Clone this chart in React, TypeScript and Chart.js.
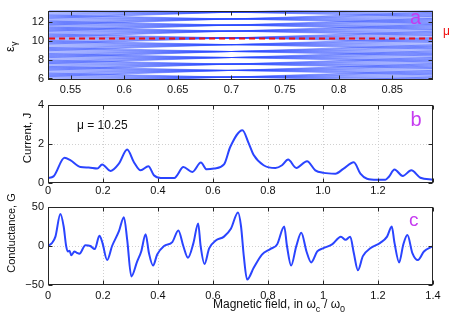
import React, { useEffect, useRef } from "react";
import { Chart, registerables } from "chart.js";

Chart.register(...registerables);

const FONT = "'Liberation Sans', Arial, Helvetica, sans-serif";

// ---------- Panel a: energy levels vs magnetic field ----------
const levelField = [0.53, 0.7, 0.888];
const bandCentres = [5.45, 6.15, 6.86, 7.53, 8.23, 8.87, 9.6, 10.31, 11.04, 11.68, 12.33, 13.05, 13.75];
const fanStart = [0.425, 0.306, 0.187, 0.068, -0.051, -0.17, -0.289, -0.408, -0.527, -0.646];
const fanEnd = [-0.47, -0.338, -0.207, -0.075, 0.056, 0.188, 0.32, 0.451, 0.583, 0.714];
const mu = 10.25;
const aTicksX = [0.55, 0.6, 0.65, 0.7, 0.75, 0.8, 0.85];
const aTickLabelsX = ["0.55", "0.6", "0.65", "0.7", "0.75", "0.8", "0.85"];
const aTicksY = [6, 8, 10, 12];
const aTickLabelsY = ["6", "8", "10", "12"];

// ---------- Panel b: current ----------
const currentField = [0, 0.02, 0.06, 0.081, 0.118, 0.148, 0.179, 0.197, 0.227, 0.258, 0.288, 0.312, 0.337, 0.365, 0.385, 0.41, 0.46, 0.47, 0.492, 0.525, 0.556, 0.577, 0.604, 0.64, 0.663, 0.707, 0.73, 0.748, 0.784, 0.827, 0.851, 0.873, 0.903, 0.942, 0.972, 1.002, 1.045, 1.075, 1.112, 1.136, 1.16, 1.196, 1.227, 1.239, 1.26, 1.29, 1.321, 1.354, 1.4];
const currentValues = [0.26, 0.34, 1.29, 1.17, 0.82, 0.79, 0.74, 0.95, 0.62, 1.0, 1.72, 1.08, 0.65, 0.86, 0.4, 0.26, 0.26, 0.4, 0.82, 0.57, 1.05, 0.7, 0.74, 0.95, 1.86, 2.71, 2.03, 1.43, 0.91, 0.77, 0.91, 1.2, 0.77, 1.12, 0.65, 0.52, 0.48, 0.74, 1.07, 0.48, 0.22, 0.17, 0.17, 0.31, 0.69, 0.36, 0.65, 0.27, 0.17];
const bTicksX = [0, 0.2, 0.4, 0.6, 0.8, 1.0, 1.2, 1.4];
const bTickLabelsX = ["0", "0.2", "0.4", "0.6", "0.8", "1.0", "1.2", ""];
const bTicksY = [0, 2, 4];
const bTickLabelsY = ["0", "2", "4"];

// ---------- Panel c: conductance ----------
const condField = [0, 0.015, 0.027, 0.045, 0.057, 0.066, 0.073, 0.078, 0.085, 0.096, 0.106, 0.114, 0.136, 0.154, 0.17, 0.187, 0.198, 0.215, 0.233, 0.258, 0.276, 0.288, 0.303, 0.324, 0.339, 0.355, 0.367, 0.382, 0.397, 0.422, 0.452, 0.474, 0.492, 0.509, 0.529, 0.546, 0.555, 0.569, 0.586, 0.61, 0.64, 0.665, 0.691, 0.702, 0.712, 0.724, 0.748, 0.778, 0.808, 0.833, 0.859, 0.869, 0.884, 0.903, 0.921, 0.94, 0.957, 0.979, 1.0, 1.033, 1.065, 1.082, 1.099, 1.112, 1.127, 1.145, 1.172, 1.208, 1.233, 1.25, 1.26, 1.277, 1.292, 1.307, 1.325, 1.345, 1.367, 1.4];
const condValues = [0, 4, 12, 41, 25, 0, -7, -6, -12, -7, -9, -10, 1, 0, -4, 13, 4, -18, 0, 19, 37, 8, -39, -20, -7, 15, -9, -25, -11, 0, 5, 20, 0, -15, 4, 29, 0, -23, -3, 7, 12, 22, 43, 25, -13, -43, -28, -11, -4, 2, 25, 0, -25, 0, 17, -7, -21, -7, -3, 2, 12, 8, 12, -9, -31, -13, -3, 4, 12, 25, 4, -21, 2, 14, -9, -18, -7, 0];
const cTicksX = [0, 0.2, 0.4, 0.6, 0.8, 1.0, 1.2, 1.4];
const cTickLabelsX = ["0", "0.2", "0.4", "0.6", "0.8", "1", "1.2", "1.4"];
const cTicksY = [-50, 0, 50];
const cTickLabelsY = ["\u221250", "0", "50"];

const W = 457;
const H = 319;

type TextItem = { text: string; x: number; y: number; size: number; color: string; rotate?: boolean };

function framePlugin(gridX: number[], gridY: number[], texts: (ctx: CanvasRenderingContext2D) => void) {
  return {
    id: "frameTicks",
    beforeDatasetsDraw(chart: any) {
      const { ctx, chartArea: ca, scales } = chart;
      ctx.save();
      ctx.strokeStyle = "#c4c4c4";
      ctx.lineWidth = 0.8;
      ctx.setLineDash([1, 2]);
      gridX.forEach((v) => {
        const px = Math.round(scales.x.getPixelForValue(v)) + 0.5;
        ctx.beginPath();
        ctx.moveTo(px, ca.top);
        ctx.lineTo(px, ca.bottom);
        ctx.stroke();
      });
      gridY.forEach((v) => {
        const py = Math.round(scales.y.getPixelForValue(v)) + 0.5;
        ctx.beginPath();
        ctx.moveTo(ca.left, py);
        ctx.lineTo(ca.right, py);
        ctx.stroke();
      });
      ctx.restore();
    },
    afterDatasetsDraw(chart: any) {
      const { ctx, chartArea: ca, scales } = chart;
      ctx.save();
      ctx.strokeStyle = "#262626";
      ctx.lineWidth = 1;
      ctx.setLineDash([]);
      const L = Math.round(ca.left) + 0.5, R = Math.round(ca.right) - 0.5;
      const T = Math.round(ca.top) + 0.5, B = Math.round(ca.bottom) - 0.5;
      ctx.strokeRect(L, T, R - L, B - T);
      const tl = 4;
      ctx.beginPath();
      scales.x.ticks.forEach((t: any) => {
        const px = Math.round(scales.x.getPixelForValue(t.value)) + 0.5;
        ctx.moveTo(px, B);
        ctx.lineTo(px, B - tl);
        ctx.moveTo(px, T);
        ctx.lineTo(px, T + tl);
      });
      scales.y.ticks.forEach((t: any) => {
        const py = Math.round(scales.y.getPixelForValue(t.value)) + 0.5;
        ctx.moveTo(L, py);
        ctx.lineTo(L + tl, py);
        ctx.moveTo(R, py);
        ctx.lineTo(R - tl, py);
      });
      ctx.stroke();
      ctx.restore();
    },
    afterDraw(chart: any) {
      const { ctx } = chart;
      ctx.save();
      texts(ctx);
      ctx.restore();
    },
  };
}

function drawText(ctx: CanvasRenderingContext2D, t: TextItem) {
  ctx.save();
  ctx.fillStyle = t.color;
  ctx.font = `${t.size}px ${FONT}`;
  if (t.rotate) {
    ctx.translate(t.x, t.y);
    ctx.rotate(-Math.PI / 2);
    ctx.textAlign = "center";
    ctx.textBaseline = "middle";
    ctx.fillText(t.text, 0, 0);
  } else {
    ctx.textAlign = "left";
    ctx.textBaseline = "alphabetic";
    ctx.fillText(t.text, t.x, t.y);
  }
  ctx.restore();
}

function axisScales(xMin: number, xMax: number, xTicks: number[], xLabels: string[], yMin: number, yMax: number, yTicks: number[], yLabels: string[], xHeight: number, xPad: number) {
  return {
    x: {
      type: "linear" as const,
      min: xMin,
      max: xMax,
      grid: { display: false, drawTicks: false },
      border: { display: false },
      afterBuildTicks: (s: any) => {
        s.ticks = xTicks.map((v) => ({ value: v }));
      },
      afterFit: (s: any) => {
        s.height = xHeight;
      },
      ticks: {
        autoSkip: false,
        maxRotation: 0,
        padding: xPad,
        color: "#111",
        font: { family: FONT, size: 11 },
        callback: (_v: any, i: number) => xLabels[i],
      },
    },
    y: {
      type: "linear" as const,
      min: yMin,
      max: yMax,
      grid: { display: false, drawTicks: false },
      border: { display: false },
      afterBuildTicks: (s: any) => {
        s.ticks = yTicks.map((v) => ({ value: v }));
      },
      afterFit: (s: any) => {
        s.width = 48;
      },
      ticks: {
        autoSkip: false,
        padding: 4,
        color: "#111",
        font: { family: FONT, size: 11 },
        callback: (_v: any, i: number) => yLabels[i],
      },
    },
  };
}

const baseOptions = {
  responsive: false,
  animation: false as const,
  devicePixelRatio: 1,
  plugins: { legend: { display: false }, tooltip: { enabled: false } },
  elements: { point: { radius: 0 } },
};

export default function App() {
  const refA = useRef<HTMLCanvasElement>(null);
  const refB = useRef<HTMLCanvasElement>(null);
  const refC = useRef<HTMLCanvasElement>(null);

  useEffect(() => {
    // ---- Panel a ----
    const levelSets: any[] = [];
    bandCentres.forEach((c) => {
      fanStart.forEach((s, j) => {
        levelSets.push({
          data: [
            { x: levelField[0], y: c + s },
            { x: levelField[1], y: c },
            { x: levelField[2], y: c + fanEnd[j] },
          ],
          borderColor: "rgba(40,70,255,0.5)",
          borderWidth: 0.9,
          pointRadius: 0,
          order: 1,
        });
      });
    });
    const chartA = new Chart(refA.current!, {
      type: "line",
      data: {
        datasets: [
          {
            data: [
              { x: levelField[0], y: mu },
              { x: levelField[2], y: mu },
            ],
            borderColor: "#f01010",
            borderWidth: 2,
            borderDash: [6, 4],
            pointRadius: 0,
            order: 0,
          },
          ...levelSets,
        ],
      },
      options: {
        ...baseOptions,
        layout: { padding: { top: 3, right: 24, left: 0, bottom: H - 100 } },
        scales: axisScales(0.529, 0.888, aTicksX, aTickLabelsX, 5.84, 13.22, aTicksY, aTickLabelsY, 20, 3),
      } as any,
      plugins: [
        framePlugin([], [], (ctx) => {
          ctx.save();
          ctx.translate(14, 47);
          ctx.rotate(-Math.PI / 2);
          ctx.fillStyle = "#111";
          ctx.font = `13px ${FONT}`;
          ctx.textBaseline = "alphabetic";
          ctx.fillText("\u03B5", -5, 0);
          ctx.font = `9px ${FONT}`;
          ctx.fillText("\u03B3", 1, 3);
          ctx.restore();
          drawText(ctx, { text: "a", x: 410, y: 23.5, size: 20, color: "#c63cf0" });
          drawText(ctx, { text: "\u03BC", x: 443, y: 35, size: 12, color: "#f01010" });
        }),
      ],
    });

    // ---- Panel b ----
    const chartB = new Chart(refB.current!, {
      type: "line",
      data: {
        datasets: [
          {
            data: currentField.map((x, i) => ({ x, y: currentValues[i] })),
            borderColor: "#2a44ff",
            borderWidth: 2,
            pointRadius: 0,
            cubicInterpolationMode: "monotone",
          },
        ],
      },
      options: {
        ...baseOptions,
        layout: { padding: { top: 105, right: 24, left: 0, bottom: H - 200 } },
        scales: axisScales(0, 1.4, bTicksX, bTickLabelsX, 0, 4, bTicksY, bTickLabelsY, 17, 1),
      } as any,
      plugins: [
        framePlugin([0.2, 0.4, 0.6, 0.8, 1.0, 1.2], [2], (ctx) => {
          drawText(ctx, { text: "Current, J", x: 27.5, y: 138, size: 11.5, color: "#111", rotate: true });
          drawText(ctx, { text: "\u03BC = 10.25", x: 77, y: 129.3, size: 12, color: "#111" });
          drawText(ctx, { text: "b", x: 410.5, y: 125.5, size: 20, color: "#c63cf0" });
        }),
      ],
    });

    // ---- Panel c ----
    const chartC = new Chart(refC.current!, {
      type: "line",
      data: {
        datasets: [
          {
            data: condField.map((x, i) => ({ x, y: condValues[i] })),
            borderColor: "#2a44ff",
            borderWidth: 2,
            pointRadius: 0,
            cubicInterpolationMode: "monotone",
          },
        ],
      },
      options: {
        ...baseOptions,
        layout: { padding: { top: 207, right: 24, left: 0, bottom: 0 } },
        scales: axisScales(0, 1.4, cTicksX, cTickLabelsX, -50, 50, cTicksY, cTickLabelsY, 34, 4),
      } as any,
      plugins: [
        framePlugin([0.2, 0.4, 0.6, 0.8, 1.0, 1.2], [0], (ctx) => {
          drawText(ctx, { text: "Conductance, G", x: 12, y: 233, size: 11, color: "#111", rotate: true });
          drawText(ctx, { text: "c", x: 409, y: 226, size: 19, color: "#c63cf0" });
          ctx.save();
          ctx.fillStyle = "#111";
          ctx.textBaseline = "alphabetic";
          ctx.textAlign = "left";
          let x = 213;
          const y = 308;
          const parts: [string, boolean][] = [
            ["Magnetic field, in \u03C9", false],
            ["c", true],
            [" / \u03C9", false],
            ["0", true],
          ];
          parts.forEach(([s, sub]) => {
            ctx.font = sub ? `9px ${FONT}` : `12px ${FONT}`;
            ctx.fillText(s, x, sub ? y + 3.5 : y);
            x += ctx.measureText(s).width + (sub ? 0.5 : 0);
          });
          ctx.restore();
        }),
      ],
    });

    return () => {
      chartA.destroy();
      chartB.destroy();
      chartC.destroy();
    };
  }, []);

  const cs = { position: "absolute" as const, left: 0, top: 0, display: "block" };
  return (
    <div style={{ position: "absolute", left: 0, top: 0, width: W, height: H, background: "#fff" }}>
      <canvas ref={refA} width={W} height={H} style={cs} />
      <canvas ref={refB} width={W} height={H} style={cs} />
      <canvas ref={refC} width={W} height={H} style={cs} />
    </div>
  );
}
